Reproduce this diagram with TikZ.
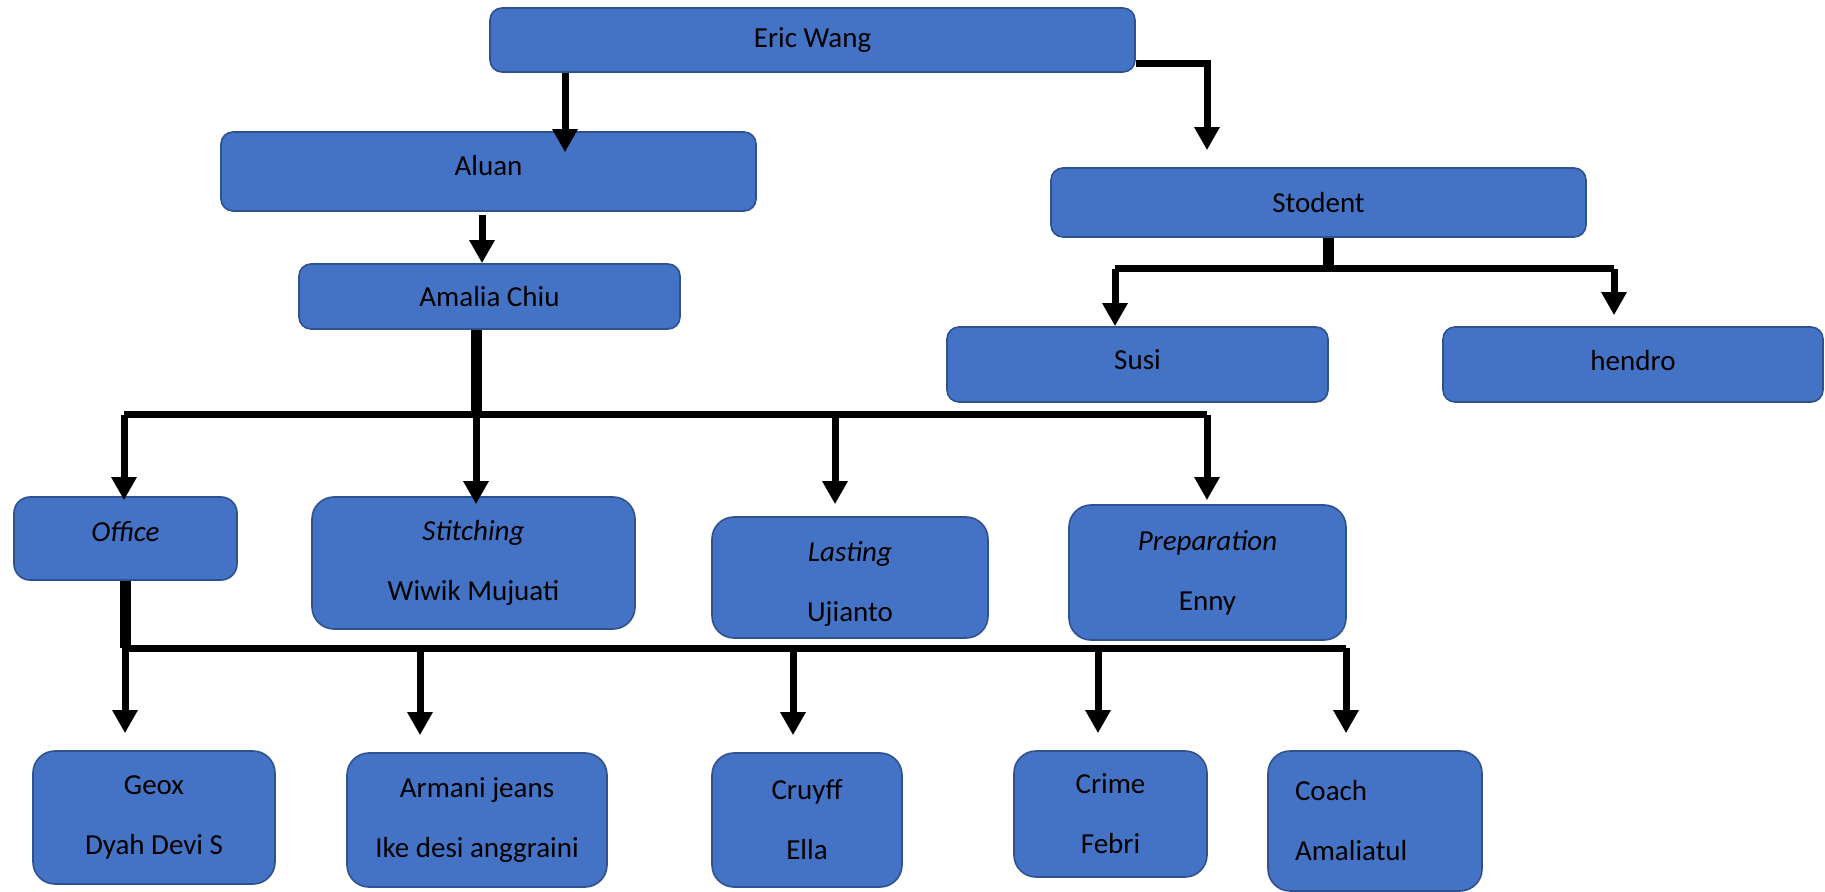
\documentclass[tikz,border=0pt]{standalone}
\usepackage{fontspec}
\setmainfont{Carlito}
\usetikzlibrary{arrows.meta, positioning}
\tikzset{>={Triangle[width=12pt,length=11.5pt]}}
\definecolor{boxblue}{HTML}{4472C4}
\definecolor{boxedge}{HTML}{2F528F}

\begin{document}
\begin{tikzpicture}[x=0.5pt,y=-0.5pt,
    every node/.style={font=\fontsize{14.5}{30}\selectfont},
    box/.style={draw=boxedge,fill=boxblue,line width=0.8pt,rounded corners=6pt,align=center,inner sep=0pt},
    tall/.style={box,rounded corners=11pt},
    link/.style={line width=3.5pt},
    stem/.style={line width=5.5pt}]
    \path[use as bounding box,fill=white] (0,0) rectangle (1825,892);
    % top part
    \node[box,minimum width=322.5pt,minimum height=32pt] (eric) at (812.5,40) {Eric Wang};
    \node[box,minimum width=267.5pt,minimum height=39.5pt,text depth=6.5pt] (aluan) at (488.5,171.5) {Aluan};
    \node[box,minimum width=190.5pt,minimum height=32.5pt] (amalia) at (489.5,296.5) {Amalia Chiu};
    \node[box,minimum width=267.5pt,minimum height=34.5pt] (stodent) at (1318.5,202.5) {Stodent};
    \node[box,minimum width=190.5pt,minimum height=37.5pt,text depth=4.5pt] (susi) at (1137.5,364.5) {Susi};
    \node[box,minimum width=190pt,minimum height=37.5pt,text depth=4.5pt] (hendro) at (1633,364.5) {hendro};
    % departments
    \node[box,rounded corners=8pt,minimum width=111.5pt,minimum height=41.5pt,text depth=7pt] (office) at (125.5,538.5) {\textit{Office}};
    \node[tall,minimum width=161.5pt,minimum height=66pt] (stitching) at (473.5,563) {\textit{Stitching}\\Wiwik Mujuati};
    \node[tall,minimum width=138pt,minimum height=60.5pt] (lasting) at (850,577.5) {\rule{0pt}{16.5pt}\textit{Lasting}\\Ujianto};
    \node[tall,minimum width=138.5pt,minimum height=67.5pt] (preparation) at (1207.5,572.5) {\textit{Preparation}\\Enny};
    % brands
    \node[tall,minimum width=121pt,minimum height=66.5pt] (geox) at (154,817.5) {Geox\\Dyah Devi S};
    \node[tall,minimum width=130pt,minimum height=67pt] (armani) at (477,820) {Armani jeans\\Ike desi anggraini};
    \node[tall,minimum width=95pt,minimum height=67pt] (cruyff) at (807,820) {Cruyff\\Ella};
    \node[tall,minimum width=96.5pt,minimum height=63pt] (crime) at (1110.5,814) {Crime\\Febri};
    \node[tall,minimum width=107pt,minimum height=70pt,align=left,text width=80pt,inner xsep=13.5pt] (coach) at (1375,821) {Coach\\Amaliatul};

    % bends and bus points
    \coordinate (ea) at (565,0);
    \coordinate (es) at (1207,0);
    \coordinate (am) at (482,0);
    \coordinate (bl) at (124,415);
    \coordinate (bm) at (476,415);
    \coordinate (bc) at (835,415);
    \coordinate (br) at (1207,415);
    \coordinate (bs) at (1328,269);
    \coordinate (sl) at (1115,269);
    \coordinate (sr) at (1614,269);
    \coordinate (ol) at (125,648);
    \coordinate (o2) at (420,648);
    \coordinate (o3) at (793,648);
    \coordinate (o4) at (1098,648);
    \coordinate (or) at (1346,648);

    \draw[link,->,shorten >=-10.5pt] (eric.south -| ea) -- (ea |- aluan.north);
    \draw[link,->,shorten >=8.5pt] ([yshift=-12pt]eric.east) -| (es |- stodent.north);
    \draw[link,->,shorten <=1.5pt] (aluan.south -| am) -- (am |- amalia.north);

    \draw[stem] (amalia.south -| bm) -- (bm);
    \draw[link] (bl) -- (br);
    \path[link,->]
        (bl)    edge[shorten >=-2pt]  (bl |- office.north)
        (bm)    edge[shorten >=-4pt]  (bm |- stitching.north)
        (bc)    edge[shorten >=6pt]   (bc |- lasting.north)
        (br)    edge[shorten >=2pt]   (br |- preparation.north)
    ;

    \draw[stem] (stodent.south -| bs) -- (bs);
    \draw[link] (sl) -- (sr);
    \path[link,->]
        (sl)    edge                  (sl |- susi.north)
        (sr)    edge[shorten >=5.5pt] (sr |- hendro.north)
    ;

    \draw[stem] (office.south -| ol) -- (ol);
    \draw[link] (ol) -- (or);
    \path[link,->,shorten >=8.5pt]
        (ol)    edge  (ol |- geox.north)
        (o2)    edge  (o2 |- armani.north)
        (o3)    edge  (o3 |- cruyff.north)
        (o4)    edge  (o4 |- crime.north)
        (or)    edge  (or |- coach.north)
    ;
\end{tikzpicture}
\end{document}
